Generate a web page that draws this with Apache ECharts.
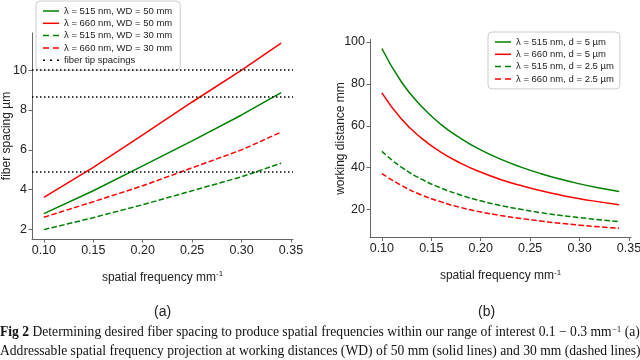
<!DOCTYPE html>
<html>
<head>
<meta charset="UTF-8">
<title>Fiber spacing / working distance</title>
<script src="https://cdn.jsdelivr.net/npm/echarts@6.0.0/dist/echarts.min.js"></script>
<style>
  html, body { margin: 0; padding: 0; background: #fff; }
  #chart { width: 640px; height: 360px; }
</style>
</head>
<body>
<div id="chart"></div>
<script>
// (a) fiber spacing (µm) vs spatial frequency (mm^-1)
const freqA = [0.10, 0.15, 0.20, 0.25, 0.30, 0.34];
const g50 = [2.80, 3.95, 5.20, 6.45, 7.75, 8.87];
const r50 = [3.62, 5.12, 6.75, 8.40, 10.0, 11.35];
const g30 = [2.00, 2.60, 3.25, 3.95, 4.65, 5.33];
const r30 = [2.62, 3.40, 4.20, 5.10, 6.00, 6.89];
const tipSpacings = [10.0, 8.66, 4.88];

// (b) working distance (mm) vs spatial frequency (mm^-1)
const freqB = [0.10, 0.12, 0.14, 0.16, 0.18, 0.20, 0.22, 0.24, 0.26, 0.28, 0.30, 0.32, 0.34];
const g5 = [96.9, 80.8, 69.3, 60.6, 53.9, 48.5, 44.1, 40.4, 37.3, 34.6, 32.3, 30.3, 28.6];
const r5 = [75.7, 63.1, 54.1, 47.3, 42.1, 37.9, 34.4, 31.6, 29.1, 27.0, 25.2, 23.7, 22.3];
const g25 = [47.8, 40.2, 34.6, 30.3, 26.9, 24.2, 22.0, 20.2, 18.6, 17.3, 16.2, 15.2, 14.3];
const r25 = [37.2, 31.5, 27.0, 23.7, 21.0, 18.9, 17.2, 15.8, 14.6, 13.5, 12.6, 11.8, 11.1];

const xTicks = [0.10, 0.15, 0.20, 0.25, 0.30, 0.35];
const yTicksA = [2, 4, 6, 8, 10];
const yTicksB = [20, 40, 60, 80, 100];

const GREEN = '#008000';
const RED = '#ff0000';
const DASH = [5.5, 2.4];

// legend icons (filled paths, 16 x 1.5)
const ICON_SOLID = 'path://M0,0H16V1.5H0Z';
const ICON_DASH = 'path://M0,0H6V1.5H0Z M10,0H16V1.5H10Z';
const ICON_DOT = 'path://M0,0H2V1.5H0Z M7,0H9V1.5H7Z M14,0H16V1.5H14Z';

const chart = echarts.init(document.getElementById('chart'));

function pairs(xs, ys) {
    return xs.map((x, i) => [x, ys[i]]);
}

const axisCommon = {
    axisLine: { show: true, lineStyle: { color: '#666', width: 1 } },
    axisTick: { show: true, inside: false, length: 3.5, lineStyle: { color: '#666' } },
    splitLine: { show: false },
    axisLabel: { color: '#222', fontSize: 12.5, fontFamily: 'Liberation Sans', margin: 5 },
    nameMoveOverlap: false,
    nameTextStyle: {
        color: '#222', fontSize: 12, fontFamily: 'Liberation Sans',
        rich: { s: { fontSize: 8, fontFamily: 'Liberation Sans', color: '#222', padding: [0, 0, 7, 0] } }
    }
};

function xAxis(grid) {
    return Object.assign({}, axisCommon, {
        type: 'value', gridIndex: grid, min: 0.088, max: 0.352,
        name: 'spatial frequency mm{s|-1}', nameLocation: 'middle', nameGap: 31,
        axisTick: Object.assign({}, axisCommon.axisTick, { customValues: xTicks }),
        axisLabel: Object.assign({}, axisCommon.axisLabel, {
            customValues: xTicks, formatter: v => v.toFixed(2)
        })
    });
}

function yAxis(grid, min, max, ticks, name, gap) {
    return Object.assign({}, axisCommon, {
        type: 'value', gridIndex: grid, min: min, max: max,
        name: name, nameLocation: 'middle', nameGap: gap,
        axisTick: Object.assign({}, axisCommon.axisTick, { customValues: ticks }),
        axisLabel: Object.assign({}, axisCommon.axisLabel, { customValues: ticks })
    });
}

function lineSeries(name, xi, xs, ys, color, dashed, smooth) {
    return {
        name: name, type: 'line', xAxisIndex: xi, yAxisIndex: xi,
        data: pairs(xs, ys), showSymbol: false, symbol: 'none', smooth: smooth,
        lineStyle: { color: color, width: 1.5, type: dashed ? DASH : 'solid' },
        itemStyle: { color: color },
        z: 3
    };
}

const legendCommon = {
    orient: 'vertical',
    itemWidth: 16, itemHeight: 1.5, itemGap: 2.3, symbolKeepAspect: false,
    backgroundColor: 'rgba(255,255,255,0.8)', borderColor: '#ccc', borderWidth: 1, borderRadius: 4,
    textStyle: { color: '#222', fontSize: 9.5, fontFamily: 'Liberation Sans', lineHeight: 9 }
};

function legendItem(name, icon) {
    return { name: name, icon: icon };
}

const option = {
    animation: false,
    backgroundColor: '#fff',
    grid: [
        { left: 32, top: 33, width: 261, height: 206, outerBoundsMode: 'none', containLabel: false },
        { left: 370, top: 39.5, width: 261, height: 198, outerBoundsMode: 'none', containLabel: false }
    ],
    xAxis: [xAxis(0), xAxis(1)],
    yAxis: [
        yAxis(0, 1.53, 11.86, yTicksA, 'fiber spacing µm', 19),
        yAxis(1, 6.7, 101.2, yTicksB, 'working distance mm', 23)
    ],
    legend: [
        Object.assign({}, legendCommon, {
            left: 36, top: 1, padding: [5, 8, 5, 7],
            data: [
                legendItem('λ = 515 nm, WD = 50 mm', ICON_SOLID),
                legendItem('λ = 660 nm, WD = 50 mm', ICON_SOLID),
                legendItem('λ = 515 nm, WD = 30 mm', ICON_DASH),
                legendItem('λ = 660 nm, WD = 30 mm', ICON_DASH),
                legendItem('fiber tip spacings', ICON_DOT)
            ]
        }),
        Object.assign({}, legendCommon, {
            left: 488, top: 32, padding: [5, 6, 5, 7],
            data: [
                legendItem('λ = 515 nm, d = 5 µm', ICON_SOLID),
                legendItem('λ = 660 nm, d = 5 µm', ICON_SOLID),
                legendItem('λ = 515 nm, d = 2.5 µm', ICON_DASH),
                legendItem('λ = 660 nm, d = 2.5 µm', ICON_DASH)
            ]
        })
    ],
    series: [
        lineSeries('λ = 515 nm, WD = 50 mm', 0, freqA, g50, GREEN, false, false),
        lineSeries('λ = 660 nm, WD = 50 mm', 0, freqA, r50, RED, false, false),
        lineSeries('λ = 515 nm, WD = 30 mm', 0, freqA, g30, GREEN, true, false),
        lineSeries('λ = 660 nm, WD = 30 mm', 0, freqA, r30, RED, true, false),
        {
            name: 'fiber tip spacings', type: 'line', xAxisIndex: 0, yAxisIndex: 0, data: [],
            symbol: 'none',
            lineStyle: { color: '#000', width: 1.5, type: [1.5, 2.5] },
            itemStyle: { color: '#000' },
            markLine: {
                silent: true, symbol: ['none', 'none'], label: { show: false },
                lineStyle: { color: '#000', width: 1.5, type: [1.5, 2.5] },
                data: tipSpacings.map(v => ({ yAxis: v }))
            }
        },
        lineSeries('λ = 515 nm, d = 5 µm', 1, freqB, g5, GREEN, false, true),
        lineSeries('λ = 660 nm, d = 5 µm', 1, freqB, r5, RED, false, true),
        lineSeries('λ = 515 nm, d = 2.5 µm', 1, freqB, g25, GREEN, true, true),
        lineSeries('λ = 660 nm, d = 2.5 µm', 1, freqB, r25, RED, true, true)
    ],
    graphic: [
        { type: 'text', left: 154, top: 305, style: { text: '(a)', fontSize: 14, fontFamily: 'Liberation Sans', fill: '#222' } },
        { type: 'text', left: 478, top: 305, style: { text: '(b)', fontSize: 14, fontFamily: 'Liberation Sans', fill: '#222' } },
        {
            type: 'text', left: 0, top: 325,
            style: {
                text: '{b|Fig 2} Determining desired fiber spacing to produce spatial frequencies within our range of interest 0.1 − 0.3 mm{s|−1} (a)',
                fontSize: 13.6, fontFamily: 'Liberation Serif', fill: '#111',
                rich: {
                    b: { fontWeight: 'bold', fontSize: 13.6, fontFamily: 'Liberation Serif', fill: '#111' },
                    s: { fontSize: 9, fontFamily: 'Liberation Serif', fill: '#111', padding: [0, 0, 6, 0] }
                }
            }
        },
        {
            type: 'text', left: 0, top: 344,
            style: {
                text: 'Addressable spatial frequency projection at working distances (WD) of 50 mm (solid lines) and 30 mm (dashed lines).',
                fontSize: 13.6, fontFamily: 'Liberation Serif', fill: '#111'
            }
        }
    ]
};

chart.setOption(option);
</script>
</body>
</html>
